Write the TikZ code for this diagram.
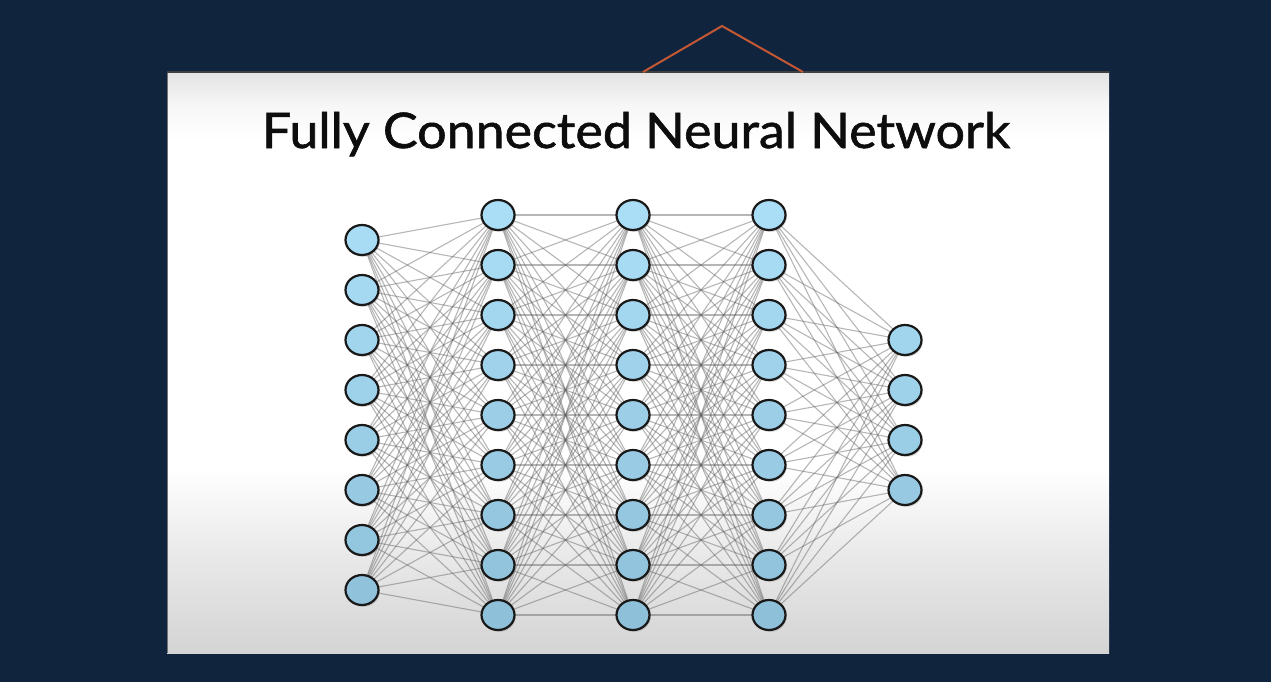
\documentclass[tikz,border=0pt]{standalone}
\usepackage{fontspec}
\newfontfamily\titlefont[FakeBold=1.2]{Lato}
\usetikzlibrary{shadows,shapes.geometric}
\definecolor{navy}{RGB}{16,36,61}
\definecolor{hanger}{RGB}{196,88,52}
\definecolor{nodeTop}{RGB}{170,221,246}
\definecolor{nodeBot}{RGB}{142,192,218}
\definecolor{edgegray}{RGB}{95,95,95}
\pgfdeclarelayer{bglayer}
\pgfdeclarelayer{edgelayer}
\pgfsetlayers{bglayer,edgelayer,main}
\pgfdeclareverticalshading{panelshade}{100bp}{%
  color(0bp)=(black!17);
  color(25bp)=(black!17);
  color(34bp)=(black!8);
  color(41bp)=(white);
  color(69bp)=(white);
  color(72bp)=(black!3);
  color(75bp)=(black!11);
  color(100bp)=(black!11)}
\tikzset{
  neuron/.style={ellipse, draw=black!90, line width=2.2pt, minimum width=33pt, minimum height=30pt, inner sep=0pt,
    drop shadow={shadow xshift=1.2pt, shadow yshift=-1.8pt, opacity=0.35}},
  synapse/.style={draw=edgegray, line width=1.1pt, opacity=0.45},
  hangline/.style={draw=hanger, line width=2pt},
  titletext/.style={font=\titlefont\fontsize{49}{52}\selectfont, text=black!95, inner sep=0pt, anchor=base}
}
\begin{document}
\begin{tikzpicture}[x=1pt,y=-1pt]
\useasboundingbox (0,0) rectangle (1271,682);
\begin{pgfonlayer}{bglayer}
  \fill[navy] (0,0) rectangle (1271,682);
  \shade[shading=panelshade] (167,72) rectangle (1109,653);
  \draw[black!55, line width=0.8pt] (167,653) -- (167,72) -- (1109,72);
  \draw[black!75, line width=1.2pt] (167,72) -- (1109,72);
\end{pgfonlayer}
\coordinate (hl) at (643,72);
\coordinate (ht) at (722,26);
\coordinate (hr) at (803,72);
\draw[hangline] (hl) -- (ht) -- (hr);
\node[titletext] (title) at (636,148) {\scalebox{1.06}[1]{Fully Connected Neural Network}};
% layer 1
\foreach \i in {1,...,8}{
  \pgfmathsetmacro{\yy}{190+50*\i}
  \pgfmathtruncatemacro{\tt}{(\yy-215)/4}
  \colorlet{nc}{nodeBot!\tt!nodeTop}
  \node[neuron, fill=nc] (a\i) at (362,\yy) {};
}
% layers 2-4
\foreach \L/\X in {b/498,c/633,d/769}{
  \foreach \i in {1,...,9}{
    \pgfmathsetmacro{\yy}{165+50*\i}
    \pgfmathtruncatemacro{\tt}{(\yy-215)/4}
    \colorlet{nc}{nodeBot!\tt!nodeTop}
    \node[neuron, fill=nc] (\L\i) at (\X,\yy) {};
  }
}
% layer 5
\foreach \i in {1,...,4}{
  \pgfmathsetmacro{\yy}{290+50*\i}
  \pgfmathtruncatemacro{\tt}{(\yy-215)/4}
  \colorlet{nc}{nodeBot!\tt!nodeTop}
  \node[neuron, fill=nc] (e\i) at (905,\yy) {};
}
\begin{pgfonlayer}{edgelayer}
  \foreach \i in {1,...,8}{\foreach \j in {1,...,9}{\draw[synapse] (a\i.center) -- (b\j.center);}}
  \foreach \i in {1,...,9}{\foreach \j in {1,...,9}{\draw[synapse] (b\i.center) -- (c\j.center);}}
  \foreach \i in {1,...,9}{\foreach \j in {1,...,9}{\draw[synapse] (c\i.center) -- (d\j.center);}}
  \foreach \i in {1,...,9}{\foreach \j in {1,...,4}{\draw[synapse] (d\i.center) -- (e\j.center);}}
\end{pgfonlayer}
\end{tikzpicture}
\end{document}
